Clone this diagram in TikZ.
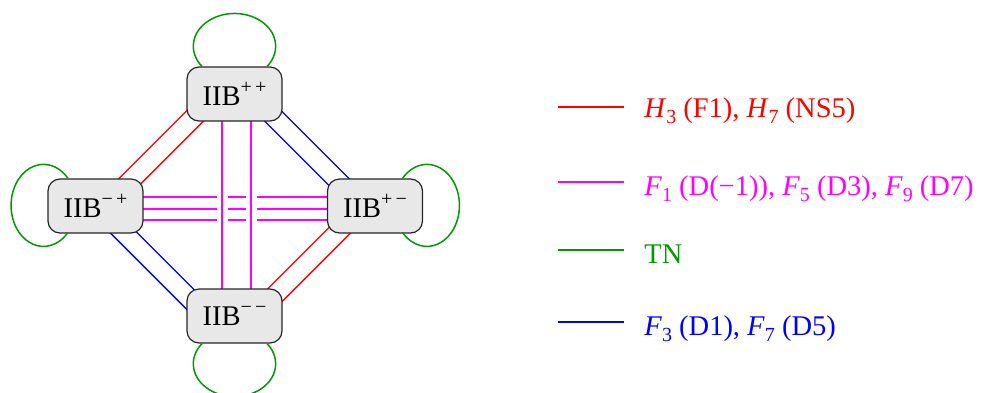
\documentclass[tikz,border=0pt]{standalone}
\usepackage{fontspec}
\setmainfont{Liberation Serif}
\usetikzlibrary{calc,backgrounds}
\definecolor{tngreen}{RGB}{0,153,0}
\definecolor{hred}{RGB}{255,0,0}
\definecolor{fmag}{RGB}{255,0,255}
\definecolor{fblue}{RGB}{0,0,255}
\newcommand{\charge}[1]{\raisebox{6.3pt}{\fontsize{10}{12}\selectfont #1}}
\newcommand{\sbs}[1]{\raisebox{-3.2pt}{\fontsize{10}{12}\selectfont #1}}
\begin{document}
\begin{tikzpicture}[x=0.5pt,y=-0.5pt,
  font=\fontsize{14.25}{17}\selectfont,
  iib/.style={draw=black!85, fill=gray!18, rounded corners=6pt,
    minimum width=47.5pt, minimum height=27pt, inner sep=0pt, line width=0.6pt},
  conn/.style={line width=0.75pt},
  pair/.style={conn, double=white, double distance=8.75pt},
  halo/.style={conn, preaction={draw=white, line width=5.5pt}},
  tn/.style={conn, tngreen},
  legtext/.style={anchor=base west, inner sep=0pt}]
\useasboundingbox (0,0) rectangle (983,392);

% nodes
\node[iib] (pp) at (234.5,94)  {IIB\charge{+\,+}};
\node[iib] (mp) at (95.5,206)  {IIB\charge{−\,+}};
\node[iib] (pm) at (375,206)   {IIB\charge{+\,−}};
\node[iib] (mm) at (234.5,316) {IIB\charge{−\,−}};

\begin{pgfonlayer}{background}
  % red pairs
  \draw[pair, hred] ($(pp.center)+(-35.5,18)$) -- ($(mp.center)+(23.5,-14)$);
  \draw[pair, hred] ($(pm.center)+(-25,14)$) -- ($(mm.center)+(25.5,-6)$);
  % blue pairs
  \draw[pair, fblue] ($(pp.center)+(34.5,18)$) -- ($(pm.center)+(-26,-14)$);
  \draw[pair, fblue] ($(mp.center)+(15.5,14)$) -- ($(mm.center)+(-33.5,-6)$);
  % magenta horizontal triple
  \draw[conn, fmag] ($(mp.center)+(39.5,-9)$) -- ($(pm.center)+(-40,-9)$);
  \draw[conn, fmag] ($(mp.center)+(39.5,3)$) -- ($(pm.center)+(-40,3)$);
  \draw[conn, fmag] ($(mp.center)+(39.5,14)$) -- ($(pm.center)+(-40,14)$);
  % magenta vertical pair
  \draw[halo, fmag] ($(pp.center)+(-12.5,20)$) -- ($(mm.center)+(-12.5,-20)$);
  \draw[halo, fmag] ($(pp.center)+(16.5,20)$) -- ($(mm.center)+(16.5,-20)$);
\end{pgfonlayer}

% TN loops (elliptic arcs from node to itself)
\draw[tn] ($(pp.north)+(-32.5,0)$)
  arc[start angle=142.1, end angle=397.9, x radius=41.2, y radius=32.8];
\draw[tn] ($(mm.south)+(-32.5,0)$)
  arc[start angle=217.9, end angle=-37.9, x radius=41.2, y radius=32.8];
\draw[tn] ($(mp.north)+(-27.5,0)$)
  arc[start angle=-41.2, end angle=-318.8, x radius=32.5, y radius=41];
\draw[tn] ($(pm.north)+(27.5,0)$)
  arc[start angle=221.2, end angle=498.8, x radius=32.5, y radius=41];

% legend
\coordinate (r1) at (558,107); \coordinate (r2) at (624,107);
\coordinate (m1) at (558,182); \coordinate (m2) at (624,182);
\coordinate (g1) at (558,250); \coordinate (g2) at (624,250);
\coordinate (b1) at (558,322); \coordinate (b2) at (624,322);
\draw[conn, hred] (r1) -- (r2);
\draw[conn, fmag] (m1) -- (m2);
\draw[tn] (g1) -- (g2);
\draw[conn, fblue] (b1) -- (b2);
\node[legtext, hred] (lr) at (644,117.3)
  {\textit{H}\sbs{3} (F1), \textit{H}\sbs{7} (NS5)};
\node[legtext, fmag] (lm) at (644,195.5)
  {\textit{F}\sbs{1} (D(−1)), \textit{F}\sbs{5} (D3), \textit{F}\sbs{9} (D7)};
\node[legtext, tngreen] (lg) at (644,263) {TN};
\node[legtext, fblue] (lb) at (644,335.3)
  {\textit{F}\sbs{3} (D1), \textit{F}\sbs{7} (D5)};
\end{tikzpicture}
\end{document}
